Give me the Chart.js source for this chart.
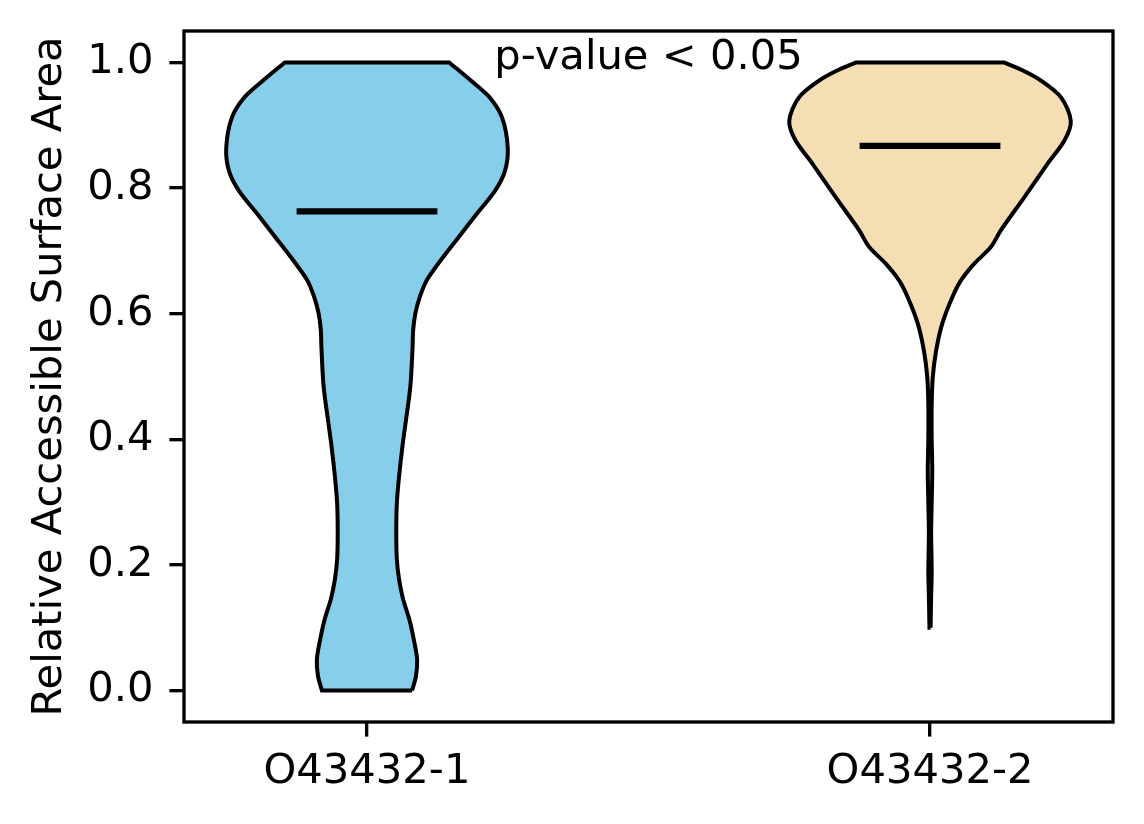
<!DOCTYPE html>
<html lang="en">
<head>
<meta charset="UTF-8">
<title>Relative Accessible Surface Area</title>
<style>
  html, body { margin: 0; padding: 0; background: #fff; }
  #violin { display: block; }
</style>
</head>
<body>
<canvas id="violin" width="1144" height="824"></canvas>

<script src="https://cdn.jsdelivr.net/npm/chart.js"></script>
<script>
// two groups, violins sit at x = 1 and x = 2
const categories = ['O43432-1', 'O43432-2'];
const positions = [1, 2];
const bodyColors = ['#87CEEB', '#F5DEB3'];
const medians = [0.763, 0.867];

// outline: y level -> half width (x units)
const levels1 = [0.000, 0.023, 0.050, 0.082, 0.114, 0.146, 0.177, 0.209, 0.250, 0.298,
                 0.341, 0.389, 0.442, 0.468, 0.495, 0.548, 0.574, 0.601, 0.627, 0.653,
                 0.679, 0.721, 0.759, 0.795, 0.827, 0.864, 0.912, 0.944, 0.970, 1.000];
const widths1 = [0.080, 0.087, 0.089, 0.083, 0.075, 0.064, 0.057, 0.053, 0.052, 0.053,
                 0.057, 0.063, 0.071, 0.075, 0.078, 0.081, 0.082, 0.086, 0.094, 0.106,
                 0.126, 0.162, 0.195, 0.227, 0.245, 0.250, 0.240, 0.218, 0.186, 0.146];

const levels2 = [0.100, 0.150, 0.190, 0.250, 0.300, 0.350, 0.400, 0.457, 0.500, 0.542,
                 0.585, 0.627, 0.653, 0.680, 0.706, 0.733, 0.786, 0.839, 0.876, 0.907,
                 0.944, 0.971, 0.987, 1.000];
const widths2 = [0.001, 0.002, 0.003, 0.002, 0.003, 0.004, 0.003, 0.003, 0.005, 0.011,
                 0.022, 0.040, 0.055, 0.079, 0.108, 0.126, 0.168, 0.209, 0.239, 0.250,
                 0.233, 0.197, 0.165, 0.131];

const yTicks = [0.0, 0.2, 0.4, 0.6, 0.8, 1.0];
const note = {text: 'p-value < 0.05', x: 1.5, y: 0.99};

const FONT = {family: '"DejaVu Sans"', size: 41.67};

function outline(pos, levels, widths) {
    const right = levels.map((y, i) => ({x: pos + widths[i], y: y}));
    const left = levels.map((y, i) => ({x: pos - widths[i], y: y})).reverse();
    const n = right.length;
    // corners are repeated so the spline keeps the flat top and bottom straight
    return [right[0]].concat(right, [right[n - 1], left[0]], left, [left[n - 1], right[0]]);
}

const bodies = [[levels1, widths1], [levels2, widths2]];
const datasets = [];
bodies.forEach(([lv, wd], i) => {
    datasets.push({
        data: outline(positions[i], lv, wd),
        showLine: true,
        fill: 'shape',
        backgroundColor: bodyColors[i],
        borderColor: '#000',
        borderWidth: 4,
        tension: 0.3,
        pointRadius: 0,
        order: 2
    });
});
medians.forEach((m, i) => {
    datasets.push({
        data: [{x: positions[i] - 0.125, y: m}, {x: positions[i] + 0.125, y: m}],
        showLine: true,
        fill: false,
        borderColor: '#000',
        borderWidth: 6.25,
        borderCapStyle: 'butt',
        tension: 0,
        pointRadius: 0,
        order: 1
    });
});

const frame = {
    id: 'frame',
    afterDraw(chart) {
        const {ctx, chartArea: a, scales} = chart;
        ctx.save();
        ctx.strokeStyle = '#000';
        ctx.lineWidth = 3.33;
        ctx.strokeRect(a.left, a.top, a.right - a.left, a.bottom - a.top);
        ctx.fillStyle = '#000';
        ctx.font = FONT.size + 'px ' + FONT.family;
        ctx.textAlign = 'center';
        ctx.textBaseline = 'alphabetic';
        ctx.fillText(note.text, scales.x.getPixelForValue(note.x), scales.y.getPixelForValue(note.y));
        ctx.restore();
    }
};

const tickGrid = {
    display: true,
    drawOnChartArea: false,
    drawTicks: true,
    tickLength: 14.6,
    lineWidth: 3.33,
    color: '#000'
};

new Chart(document.getElementById('violin'), {
    type: 'scatter',
    data: {datasets: datasets},
    plugins: [frame],
    options: {
        responsive: false,
        animation: false,
        layout: {padding: {top: 31, right: 31, left: 0, bottom: 0}},
        plugins: {legend: {display: false}, tooltip: {enabled: false}},
        scales: {
            x: {
                type: 'linear',
                min: 0.675,
                max: 2.325,
                afterBuildTicks: s => { s.ticks = positions.map(v => ({value: v})); },
                afterFit: s => { s.height = 102; s.paddingLeft = 0; s.paddingRight = 0; },
                ticks: {
                    callback: (v, i) => categories[i],
                    font: FONT,
                    color: '#000',
                    padding: 11,
                    maxRotation: 0,
                    autoSkip: false
                },
                grid: tickGrid,
                border: {display: false}
            },
            y: {
                min: -0.05,
                max: 1.05,
                afterBuildTicks: s => { s.ticks = yTicks.map(v => ({value: v})); },
                afterFit: s => { s.width = 184; s.paddingTop = 0; s.paddingBottom = 0; },
                ticks: {
                    callback: v => v.toFixed(1),
                    font: FONT,
                    color: '#000',
                    padding: 16
                },
                title: {
                    display: true,
                    text: 'Relative Accessible Surface Area',
                    font: FONT,
                    color: '#000',
                    padding: {top: 25.6, bottom: 0}
                },
                grid: tickGrid,
                border: {display: false}
            }
        }
    }
});
</script>
</body>
</html>
